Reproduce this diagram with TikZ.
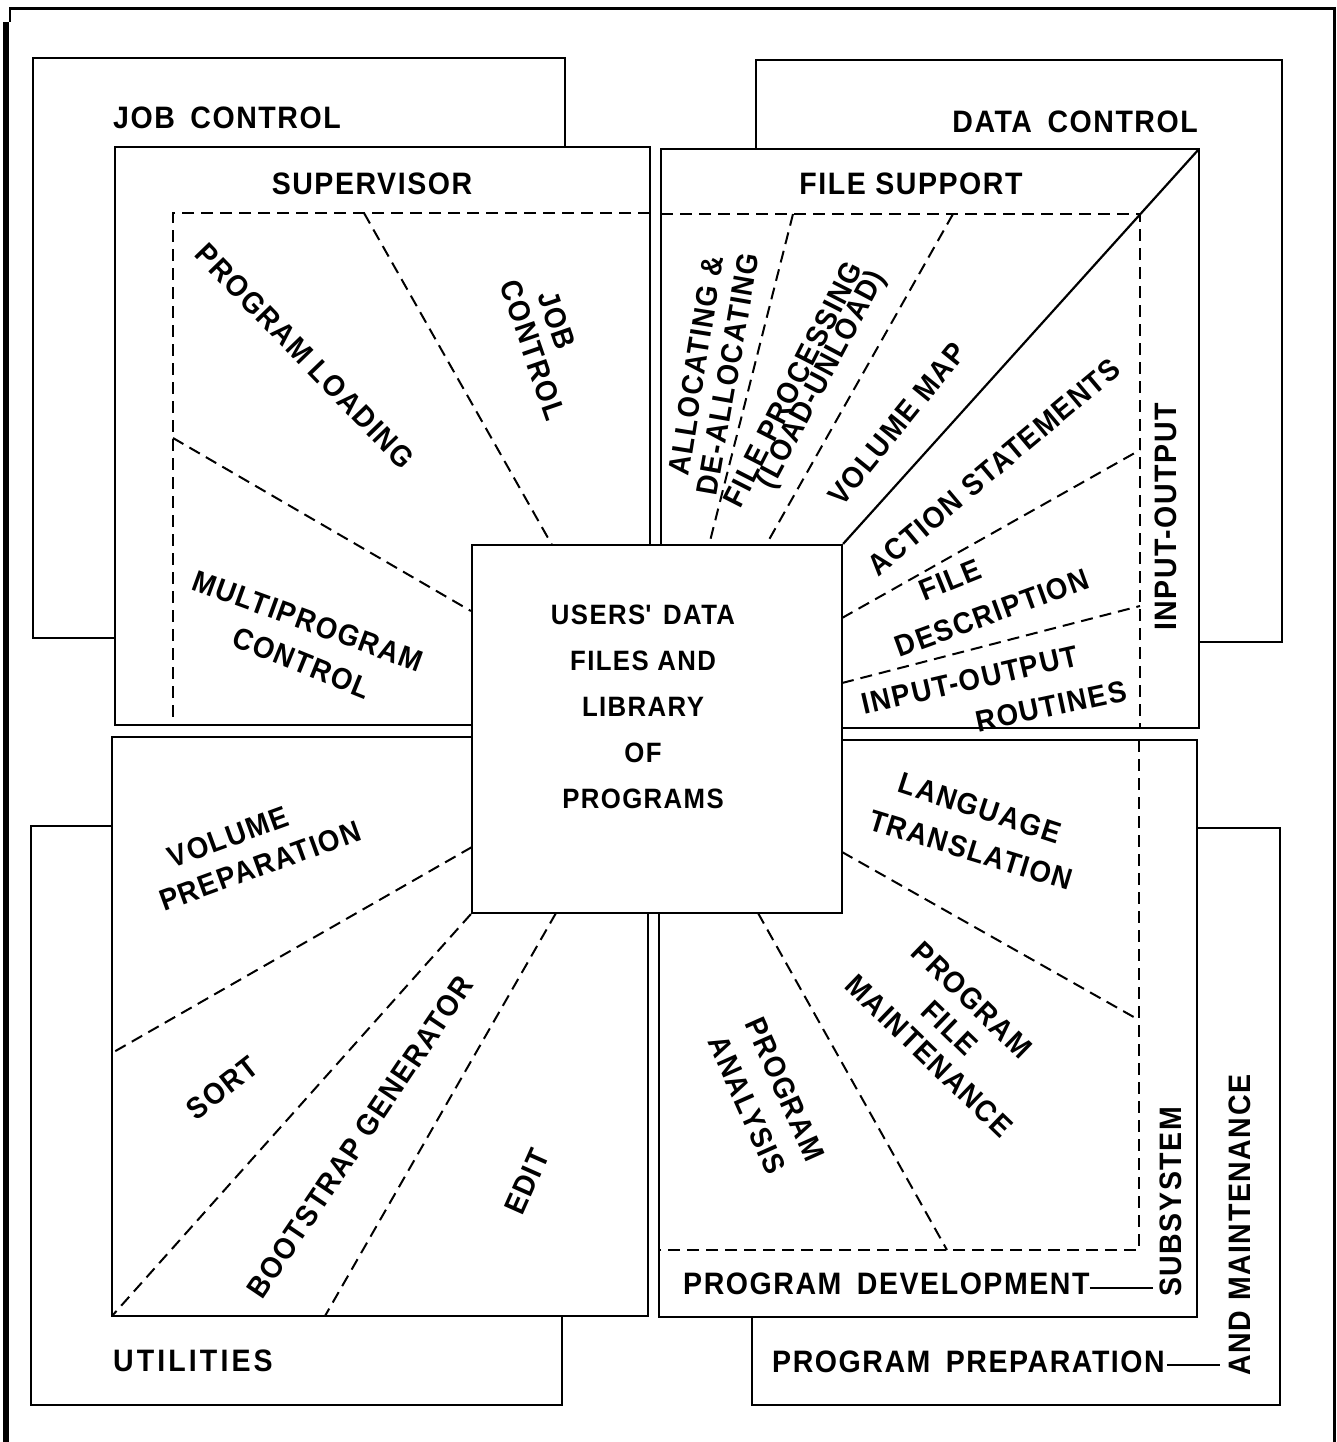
\documentclass[tikz,border=0pt]{standalone}
\usepackage{fontspec}
\setmainfont{Liberation Sans}[LetterSpace=5, FakeStretch=0.92]
\begin{document}
\begin{tikzpicture}[x=1pt,y=-1pt,
  box/.style={draw, line width=2.2pt, fill=white},
  dashln/.style={line width=2pt, dash pattern=on 12pt off 7pt},
  solidln/.style={line width=2.2pt},
  lbl/.style={font=\fontsize{30}{34}\selectfont\bfseries, inner sep=0pt},
  head/.style={font=\fontsize{31}{36}\selectfont\bfseries, inner sep=0pt},
]
\useasboundingbox (0,0) rectangle (1337,1442);
% frame
\draw[line width=3pt] (9,9) -- (1334,9) -- (1334,1442);
\draw[line width=6pt] (6,22) -- (6,1442);
\draw[line width=1.5pt] (10,9) -- (10,22);
% outer boxes
\draw[box] (33,58) rectangle (565,638);
\draw[box] (756,60) rectangle (1282,642);
\draw[box] (31,826) rectangle (562,1405);
\draw[box] (752,828) rectangle (1280,1405);
% quadrant boxes
\draw[box] (115,147) rectangle (650,725);
\draw[box] (661,149) rectangle (1199,728);
\draw[box] (112,737) rectangle (648,1316);
\draw[box] (659,740) rectangle (1197,1317);
% inner dashed borders
\draw[dashln] (650,213) -- (173,213) -- (173,725);
\draw[dashln] (661,214) -- (1140,214) -- (1140,728);
\draw[dashln] (1139,740) -- (1139,1250) -- (659,1250);
% central box
\node[box, minimum width=370pt, minimum height=368pt, inner sep=0pt] (core) at (657,729) {};
% radial dividers
\draw[dashln] (364,213) -- (552,545);
\draw[dashln] (173,438) -- (core.north west |- 0,611);
\draw[dashln] (793,214) -- (709,545);
\draw[dashln] (953,214) -- (766,545);
\draw[solidln] (1199,149) -- (core.north east);
\draw[dashln] (842,618) -- (1140,450);
\draw[dashln] (842,683) -- (1140,606);
\draw[dashln] (472,847) -- (112,1053);
\draw[dashln] (core.south west) -- (112,1316);
\draw[dashln] (556,913) -- (325,1316);
\draw[dashln] (842,852) -- (1139,1020);
\draw[dashln] (758,913) -- (947,1250);
% central text
\node[lbl, align=center, font=\fontsize{28}{46}\selectfont\bfseries] (coretext) at (643,707)
  {USERS\textquotesingle\hspace{0.4em}DATA\\FILES AND\\LIBRARY\\OF\\PROGRAMS};
% headings
\node[head, anchor=west] (jobctl) at (113,118) {JOB\hspace{0.5em}CONTROL};
\node[head] (superv) at (372,184) {SUPERVISOR};
\node[head, anchor=east] (datactl) at (1198,122) {DATA\hspace{0.5em}CONTROL};
\node[head] (filesup) at (911,184) {FILE SUPPORT};
\node[head, anchor=west, font=\fontsize{31}{36}\selectfont\bfseries\addfontfeature{LetterSpace=10}] (util) at (113,1361) {UTILITIES};
\node[head, anchor=west] (progprep) at (772,1362) {PROGRAM\hspace{0.5em}PREPARATION};
\node[head, rotate=90] (andmaint) at (1240,1225) {AND MAINTENANCE};
\node[head, anchor=west] (progdev) at (683,1284) {PROGRAM\hspace{0.5em}DEVELOPMENT};
\node[head, rotate=90] (subsys) at (1171,1202) {SUBSYSTEM};
\node[head, rotate=90] (inout) at (1166,517) {INPUT-OUTPUT};
\coordinate (devend) at (1153,1288);
\coordinate (prepend) at (1220,1365);
\draw[solidln] (progdev.east) ++(0,4) -- (devend);
\draw[solidln] (progprep.east) ++(2,3) -- (prepend);
% supervisor labels
\node[lbl, rotate=-46] (ploading) at (305,356) {PROGRAM LOADING};
\node[lbl, rotate=-71] (jcjob) at (557,320) {JOB};
\node[lbl, rotate=-71] (jcctl) at (533,350) {CONTROL};
\node[lbl, rotate=-20] (multi) at (308,621) {MULTIPROGRAM};
\node[lbl, rotate=-22] (multictl) at (302,663) {CONTROL};
% file support labels
\node[lbl, rotate=81] (alloc) at (696,366) {ALLOCATING \&};
\node[lbl, rotate=80] (dealloc) at (728,374) {DE-ALLOCATING};
\node[lbl, rotate=63] (fproc) at (793,384) {FILE PROCESSING};
\node[lbl, rotate=62] (loadun) at (822,380) {(LOAD-UNLOAD)};
\node[lbl, rotate=51] (volmap) at (897,424) {VOLUME MAP};
\node[lbl, rotate=40] (action) at (994,467) {ACTION STATEMENTS};
\node[lbl, rotate=22] (fdfile) at (950,580) {FILE};
\node[lbl, rotate=20] (fddesc) at (992,613) {DESCRIPTION};
\node[lbl, rotate=13] (iorin) at (970,680) {INPUT-OUTPUT};
\node[lbl, rotate=12] (iorout) at (1051,706) {ROUTINES};
% utilities labels
\node[lbl, rotate=20] (volprep1) at (228,837) {VOLUME};
\node[lbl, rotate=20] (volprep2) at (260,866) {PREPARATION};
\node[lbl, rotate=38] (sort) at (222,1088) {SORT};
\node[lbl, rotate=56] (boot) at (360,1137) {BOOTSTRAP GENERATOR};
\node[lbl, rotate=66] (edit) at (527,1182) {EDIT};
% program development labels
\node[lbl, rotate=-18] (lang1) at (980,808) {LANGUAGE};
\node[lbl, rotate=-17] (lang2) at (971,850) {TRANSLATION};
\node[lbl, rotate=-44] (pfm1) at (972,1000) {PROGRAM};
\node[lbl, rotate=-44] (pfm2) at (950,1028) {FILE};
\node[lbl, rotate=-44] (pfm3) at (929,1056) {MAINTENANCE};
\node[lbl, rotate=-66] (pa1) at (785,1089) {PROGRAM};
\node[lbl, rotate=-66] (pa2) at (747,1105) {ANALYSIS};
\end{tikzpicture}
\end{document}
